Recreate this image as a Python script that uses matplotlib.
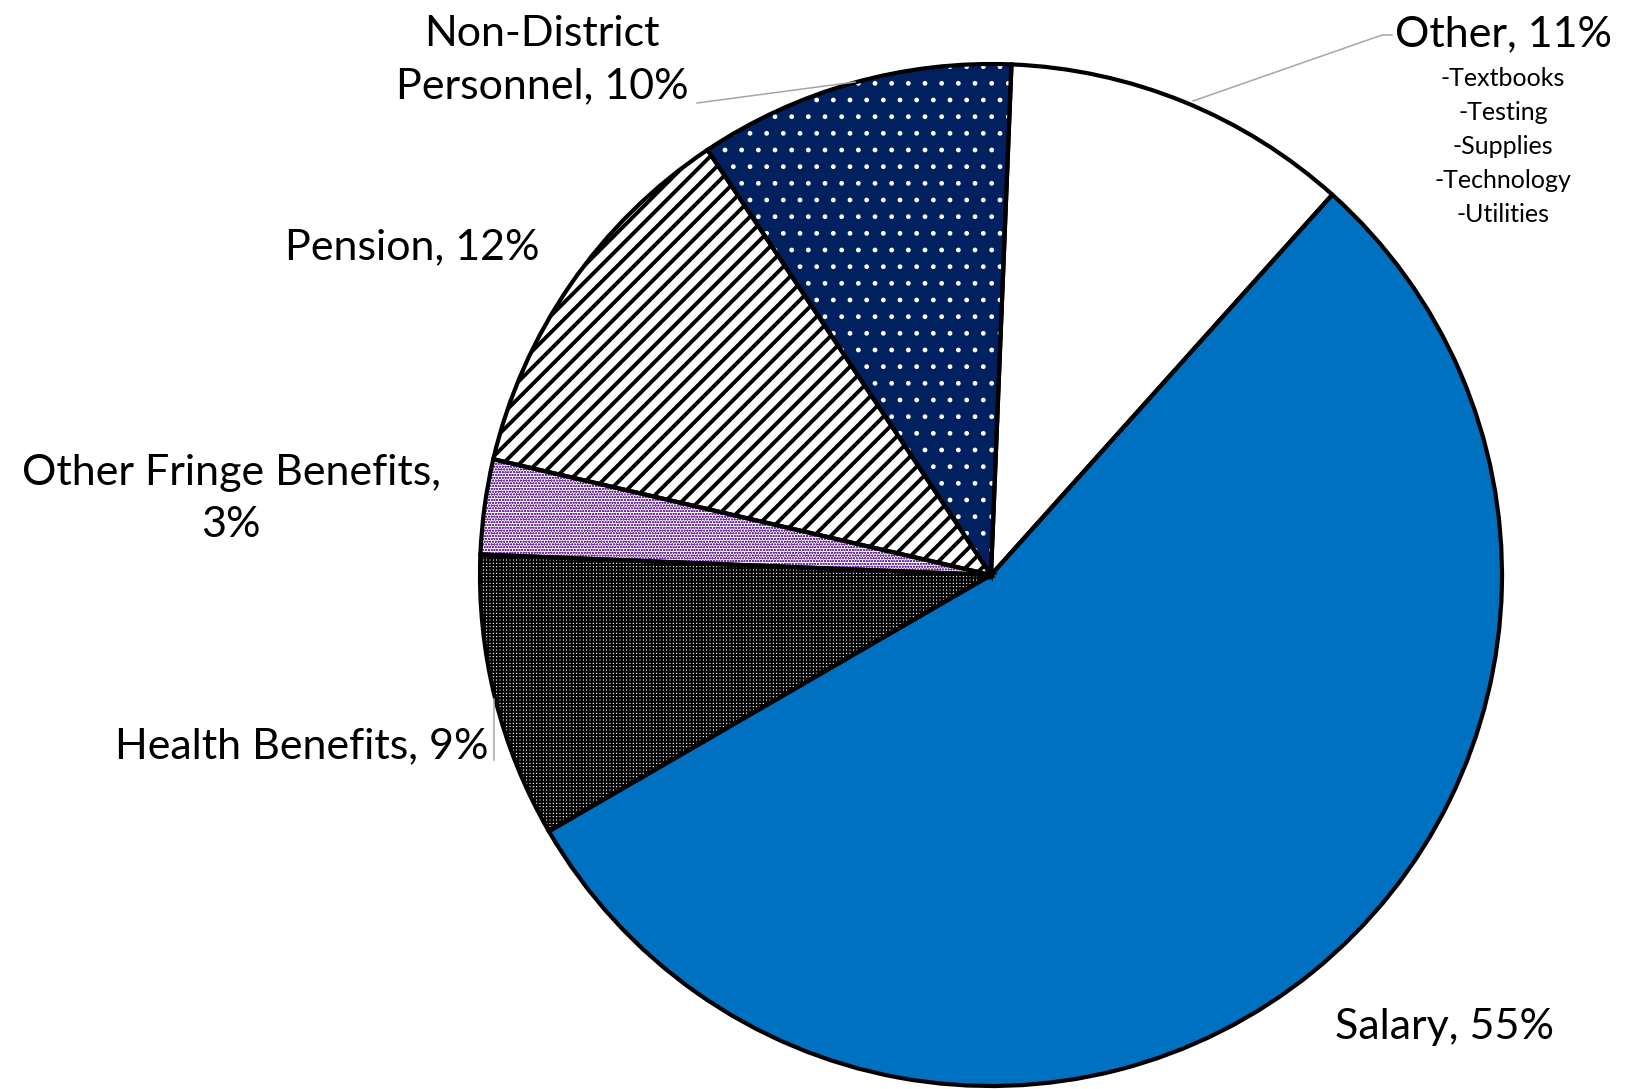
import matplotlib
matplotlib.use('Agg')
import matplotlib.pyplot as plt

# Spending shares, clockwise from the top
categories = ['Other', 'Salary', 'Health Benefits', 'Other Fringe Benefits',
              'Pension', 'Non-District Personnel']
shares = [11, 55, 9, 3, 12, 10]
other_items = ['-Textbooks', '-Testing', '-Supplies', '-Technology', '-Utilities']

W, H = 1626, 1089

plt.rcParams['font.family'] = ['Lato', 'DejaVu Sans']

fig = plt.figure(figsize=(W / 100, H / 100), dpi=100)
ax = fig.add_axes([0, 0, 1, 1])
ax.set_aspect('equal')

cx, cy, r = 991, H - 575, 511

# face colour, hatch, hatch colour, hatch linewidth
styles = [
    ('white', None, 'white', 1.0),
    ('#0070C0', None, '#0070C0', 1.0),
    ('white', '+++++', 'black', 1.5),
    ('white', 'oooooo', '#7030A0', 0.6),
    ('white', '//', 'black', 2.8),
    ('#002060', '.', 'white', 1.0),
]

wedges, _ = ax.pie(shares, startangle=87.7, counterclock=False,
                   center=(cx, cy), radius=r, frame=True)
for w, (fc, hatch, hc, hlw) in zip(wedges, styles):
    w.set_facecolor(fc)
    w.set_edgecolor(hc)
    w.set_linewidth(0)
    if hatch:
        w.set_hatch(hatch)
        w.set_hatch_linewidth(hlw)

# outlines on top of the hatched fills
ax.pie(shares, startangle=87.7, counterclock=False,
       center=(cx, cy), radius=r, frame=True,
       wedgeprops=dict(facecolor='none', edgecolor='black', linewidth=3.0))
ax.set_xlim(0, W)
ax.set_ylim(0, H)
ax.axis('off')

big = 31
ax.text(542, H - 60, 'Non-District\nPersonnel, 10%', fontsize=big,
        ha='center', va='center', linespacing=1.45)
ax.text(1503, H - 34, 'Other, 11%', fontsize=big, ha='center', va='center')
for i, item in enumerate(other_items):
    ax.text(1503, H - (78 + 34.2 * i), item, fontsize=18, ha='center', va='center')
ax.text(412, H - 247, 'Pension, 12%', fontsize=big, ha='center', va='center')
ax.text(231, H - 499, 'Other Fringe Benefits,\n3%', fontsize=big,
        ha='center', va='center', linespacing=1.45)
ax.text(488, H - 746, 'Health Benefits, 9%', fontsize=big, ha='right', va='center')
ax.text(1444, H - 1027, 'Salary, 55%', fontsize=big, ha='center', va='center')

# leader lines
lc = '#A6A6A6'
ax.plot([1193, 1382, 1392], [H - 101, H - 35, H - 35], color=lc, lw=1.1)
ax.plot([697, 855], [H - 103, H - 82], color=lc, lw=1.1)
ax.plot([494, 494], [H - 699, H - 760], color=lc, lw=1.1)

fig.savefig('out.png', dpi=100)
